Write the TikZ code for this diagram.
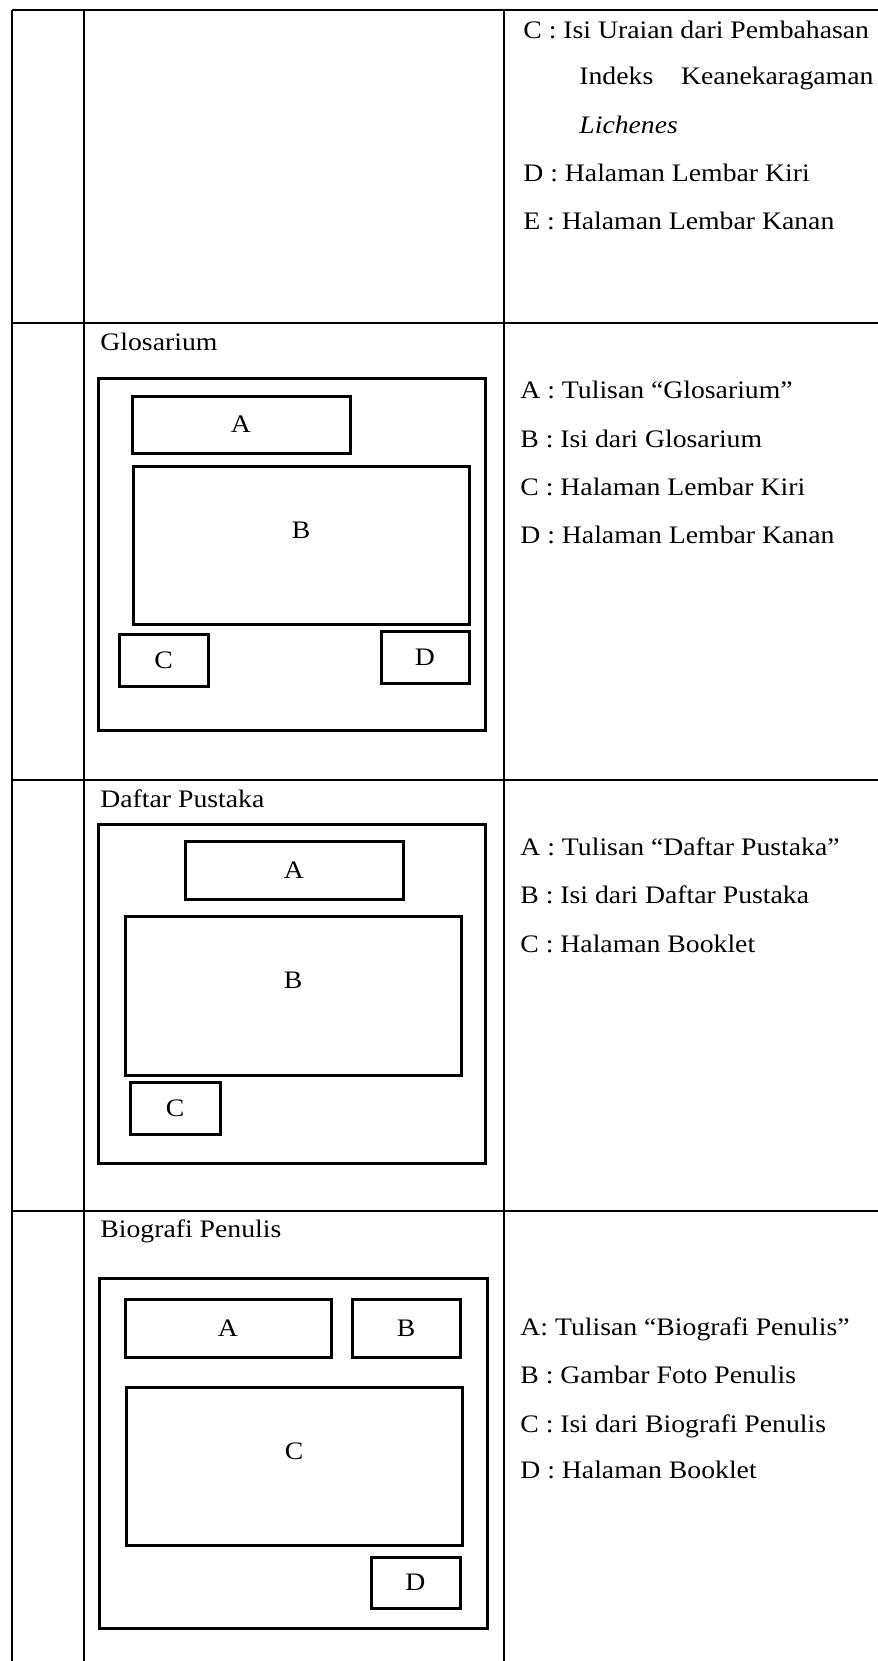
\documentclass[tikz,border=0pt]{standalone}
\usepackage{fontspec}
\setmainfont[FakeStretch=1.1]{Liberation Serif}
\usepackage{tikz}
\usetikzlibrary{positioning}

\begin{document}
\begin{tikzpicture}[x=0.5pt, y=-0.5pt, font=\fontsize{12.6}{15}\selectfont,
    garis/.style={line width=1pt},
    kotak/.style={draw, line width=1.5pt, inner sep=0pt},
    isi/.style={kotak, text depth=15pt},
    ket/.style={anchor=base west, inner sep=0pt}]
    \useasboundingbox (0,0) rectangle (878,1661);

    % garis tabel
    \draw[garis] (12,10) -- (878,10);
    \draw[garis] (12,323) -- (878,323);
    \draw[garis] (12,780) -- (878,780);
    \draw[garis] (12,1211) -- (878,1211);
    \draw[garis] (12,10) -- (12,1661);
    \draw[garis] (84,10) -- (84,1661);
    \draw[garis] (504,10) -- (504,1661);

    % baris 1
    \node[ket] (k1c) at (523,38) {C : Isi Uraian dari Pembahasan};
    \node[ket] (k1c2) at (579,84) {\makebox[147pt][s]{Indeks Keanekaragaman}};
    \node[ket] (k1c3) at (579,133) {\textit{Lichenes}};
    \node[ket] (k1d) at (523,181) {D : Halaman Lembar Kiri};
    \node[ket] (k1e) at (523,229) {E : Halaman Lembar Kanan};

    % Glosarium
    \node[ket] (jG) at (100,350) {Glosarium};
    \node[kotak, minimum width=193.5pt, minimum height=176pt] (luarG) at (291.5,554) {};
    \node[kotak, minimum width=109pt, minimum height=28.5pt] (gA) at (241,424.5) {A};
    \node[isi, minimum width=168pt, minimum height=79pt] (gB) at (301,545) {B};
    \node[kotak, minimum width=44.5pt, minimum height=26pt] (gC) at (163.5,660) {C};
    \node[kotak, minimum width=44pt, minimum height=26pt] (gD) at (425,657) {D};
    \node[ket] (kgA) at (520,398) {A : Tulisan ``Glosarium''};
    \node[ket] (kgB) at (520,447) {B : Isi dari Glosarium};
    \node[ket] (kgC) at (520,495) {C : Halaman Lembar Kiri};
    \node[ket] (kgD) at (520,543) {D : Halaman Lembar Kanan};

    % Daftar Pustaka
    \node[ket] (jP) at (100,807) {Daftar Pustaka};
    \node[kotak, minimum width=193.5pt, minimum height=169.5pt] (luarP) at (291.5,993.5) {};
    \node[kotak, minimum width=109pt, minimum height=29pt] (pA) at (294,870) {A};
    \node[isi, minimum width=168pt, minimum height=79.5pt] (pB) at (293,995.5) {B};
    \node[kotak, minimum width=45pt, minimum height=26pt] (pC) at (175,1108) {C};
    \node[ket] (kpA) at (520,855) {A : Tulisan ``Daftar Pustaka''};
    \node[ket] (kpB) at (520,903) {B : Isi dari Daftar Pustaka};
    \node[ket] (kpC) at (520,952) {C : Halaman Booklet};

    % Biografi Penulis
    \node[ket] (jB) at (100,1237) {Biografi Penulis};
    \node[kotak, minimum width=194pt, minimum height=175pt] (luarB) at (293,1453) {};
    \node[kotak, minimum width=103pt, minimum height=29pt] (bA) at (228,1328) {A};
    \node[kotak, minimum width=54pt, minimum height=29pt] (bB) at (406,1328) {B};
    \node[isi, minimum width=168pt, minimum height=79pt] (bC) at (294,1466) {C};
    \node[kotak, minimum width=44.5pt, minimum height=25.5pt] (bD) at (415.5,1582.5) {D};
    \node[ket] (kbA) at (520,1335) {A: Tulisan ``Biografi Penulis''};
    \node[ket] (kbB) at (520,1383) {B : Gambar Foto Penulis};
    \node[ket] (kbC) at (520,1432) {C : Isi dari Biografi Penulis};
    \node[ket] (kbD) at (520,1478) {D : Halaman Booklet};
\end{tikzpicture}
\end{document}
